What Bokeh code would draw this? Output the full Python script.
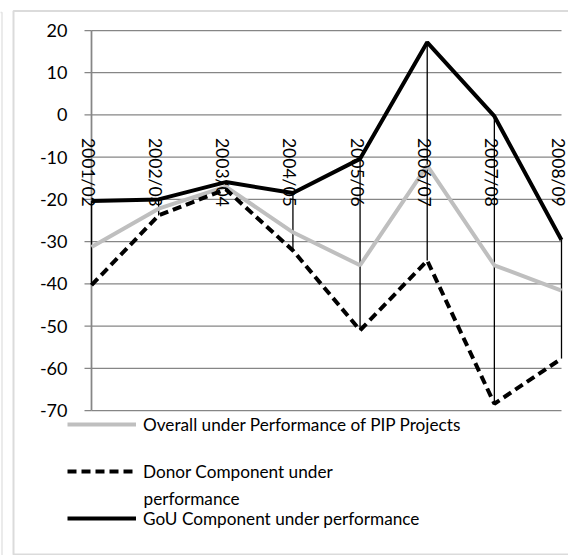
import math
from bokeh.plotting import figure
from bokeh.models import (ColumnDataSource, LabelSet, Legend, LegendItem,
                          Label, BoxAnnotation, Range1d)
from bokeh.core.properties import value
from bokeh.embed import file_html
from bokeh.resources import INLINE

# ---- data -------------------------------------------------------------
categories = ["2001/02", "2002/03", "2003/04", "2004/05",
              "2005/06", "2006/07", "2007/08", "2008/09"]
overall = [-31.3, -22.2, -17.0, -27.8, -35.6, -12.0, -35.6, -41.6]
donor = [-40.3, -23.8, -17.6, -32.1, -51.0, -34.5, -68.4, -57.7]
gou = [-20.4, -20.0, -15.9, -18.5, -10.4, 17.2, -0.3, -29.6]
y_ticks = [-70, -60, -50, -40, -30, -20, -10, 0, 10, 20]

series_names = ["Overall under Performance of PIP Projects",
                "Donor Component under",
                "GoU Component under performance"]
donor_name_line2 = "performance"

# ---- layout (canvas pixels) -------------------------------------------
W, H = 568, 555
PLOT_L, PLOT_R, PLOT_T, PLOT_B = 91, 561, 30, 410   # plot area inside canvas
FONT = "Lato"
GRID = "#868686"

n = len(categories)
ymin, ymax = min(y_ticks), max(y_ticks)
xppu = (PLOT_R - PLOT_L) / (n - 1)
yppu = (PLOT_B - PLOT_T) / (ymax - ymin)
x_range = Range1d(-PLOT_L / xppu, (n - 1) + (W - PLOT_R) / xppu)
y_range = Range1d(ymin - (H - PLOT_B) / yppu, ymax + PLOT_T / yppu)

x_idx = list(range(n))
hi = [max(a, b, c) for a, b, c in zip(overall, donor, gou)]
lo = [min(a, b, c) for a, b, c in zip(overall, donor, gou)]

src = ColumnDataSource(dict(x=x_idx, cat=categories, overall=overall,
                            donor=donor, gou=gou, hi=hi, lo=lo))
tick_src = ColumnDataSource(dict(tick=y_ticks, lab=[str(t) for t in y_ticks]))

p = figure(width=W, height=H, output_backend="svg", toolbar_location=None,
           x_range=x_range, y_range=y_range,
           min_border=0, x_axis_location=None, y_axis_location=None)
p.outline_line_color = None
p.background_fill_color = "white"
p.border_fill_color = "white"
p.xgrid.visible = False
p.ygrid.visible = False

# gridlines
p.segment(x0=0, x1=n - 1, y0="tick", y1="tick", source=tick_src,
          line_color=GRID, line_width=1.25)
# y axis line, ticks and labels
p.segment(x0=0, x1=0, y0=ymin, y1=ymax, line_color=GRID, line_width=1.75)
p.ray(x=0, y="tick", source=tick_src, length=7, length_units="screen",
      angle=math.pi, line_color=GRID, line_width=1.25)
p.add_layout(LabelSet(x=0, y="tick", text="lab", source=tick_src, x_offset=-24,
                      text_align="right", text_baseline="middle",
                      text_font=value(FONT), text_font_size="18px",
                      text_color="black"))

# high-low lines
p.segment(x0="x", y0="hi", x1="x", y1="lo", source=src,
          line_color="black", line_width=1.3)

r_overall = p.line("x", "overall", source=src, line_color="#BFBFBF", line_width=4)
r_donor = p.line("x", "donor", source=src, line_color="black", line_width=4,
                 line_dash="9 5", line_cap="butt")
r_gou = p.line("x", "gou", source=src, line_color="black", line_width=4)

# category labels (rotated)
p.add_layout(LabelSet(x="x", y=0, text="cat", source=src, angle=-math.pi / 2,
                      text_align="left", text_baseline="middle",
                      y_offset=-23, x_offset=-3,
                      text_font=value(FONT), text_font_size="17.5px",
                      text_color="black"))

legend = Legend(items=[LegendItem(label=series_names[0], renderers=[r_overall]),
                       LegendItem(label=series_names[1], renderers=[r_donor]),
                       LegendItem(label=series_names[2], renderers=[r_gou])],
                location=(67, 26), orientation="vertical",
                padding=0, margin=0, spacing=25,
                glyph_width=69, glyph_height=22, label_height=22, label_standoff=7,
                label_text_font=FONT, label_text_font_size="17.2px",
                label_text_color="black",
                border_line_color=None, background_fill_alpha=0)
p.add_layout(legend, "center")

p.add_layout(Label(x=143, y=57, x_units="screen", y_units="screen",
                   text=donor_name_line2, text_baseline="middle",
                   text_font=FONT, text_font_size="17.2px", text_color="black"))

# chart-area border and the edge of the neighbouring frame
p.add_layout(BoxAnnotation(left=13, right=640, top=544.5, bottom=1,
                           left_units="screen", right_units="screen",
                           top_units="screen", bottom_units="screen",
                           fill_alpha=0, line_color="#898989", line_width=2))
p.add_layout(BoxAnnotation(left=-20, right=1.5, top=543, bottom=-20,
                           left_units="screen", right_units="screen",
                           top_units="screen", bottom_units="screen",
                           fill_alpha=0, line_color="#a6a6a6", line_width=1.5))

open("out.html", "w").write(file_html(p, INLINE))
